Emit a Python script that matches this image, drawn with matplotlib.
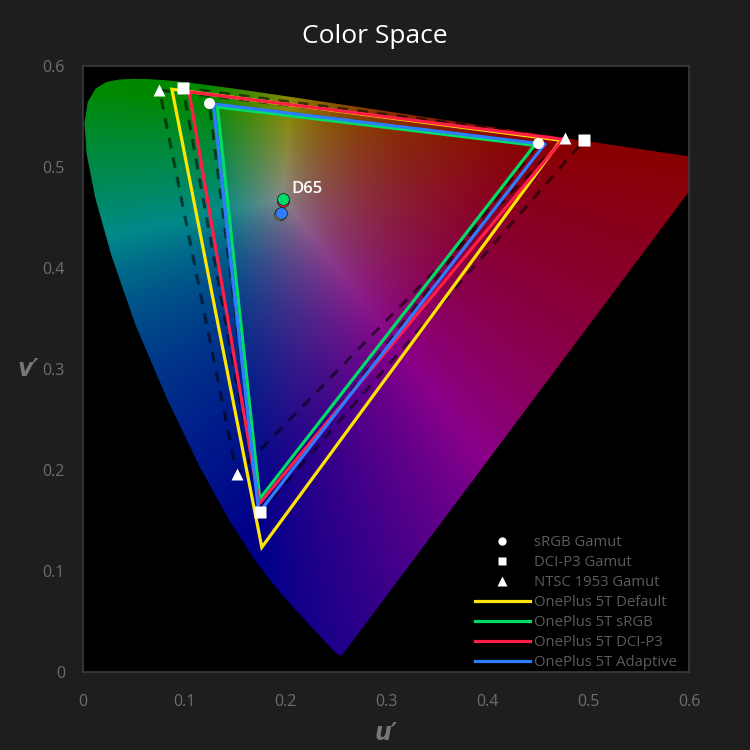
import numpy as np
import matplotlib
matplotlib.use('Agg')
import matplotlib.pyplot as plt
from matplotlib.patches import Polygon
from matplotlib.lines import Line2D

# CIE 1931 2deg spectral locus, 380-700 nm every 5 nm (x, y)
locus_x = [0.1741, 0.1740, 0.1738, 0.1736, 0.1733, 0.1730, 0.1726, 0.1721, 0.1714, 0.1703,
           0.1689, 0.1669, 0.1644, 0.1611, 0.1566, 0.1510, 0.1440, 0.1355, 0.1241, 0.1096,
           0.0913, 0.0687, 0.0454, 0.0235, 0.0082, 0.0039, 0.0139, 0.0389, 0.0743, 0.1142,
           0.1547, 0.1929, 0.2296, 0.2658, 0.3016, 0.3373, 0.3731, 0.4087, 0.4441, 0.4788,
           0.5125, 0.5448, 0.5752, 0.6029, 0.6270, 0.6482, 0.6658, 0.6801, 0.6915, 0.7006,
           0.7079, 0.7140, 0.7190, 0.7230, 0.7260, 0.7283, 0.7300, 0.7311, 0.7320, 0.7327,
           0.7334, 0.7340, 0.7344, 0.7346, 0.7347]
locus_y = [0.0050, 0.0050, 0.0049, 0.0049, 0.0048, 0.0048, 0.0048, 0.0048, 0.0051, 0.0058,
           0.0069, 0.0086, 0.0109, 0.0138, 0.0177, 0.0227, 0.0297, 0.0399, 0.0578, 0.0868,
           0.1327, 0.2007, 0.2950, 0.4127, 0.5384, 0.6548, 0.7502, 0.8120, 0.8338, 0.8262,
           0.8059, 0.7816, 0.7543, 0.7243, 0.6923, 0.6589, 0.6245, 0.5896, 0.5547, 0.5202,
           0.4866, 0.4544, 0.4242, 0.3965, 0.3725, 0.3514, 0.3340, 0.3197, 0.3083, 0.2993,
           0.2920, 0.2859, 0.2809, 0.2770, 0.2740, 0.2717, 0.2700, 0.2689, 0.2680, 0.2673,
           0.2666, 0.2660, 0.2656, 0.2654, 0.2653]

# reference gamuts in u'v' (R, G, B)
srgb_u = [0.4507, 0.1250, 0.1754]
srgb_v = [0.5229, 0.5625, 0.1579]
p3_u = [0.4964, 0.0990, 0.1754]
p3_v = [0.5262, 0.5777, 0.1579]
ntsc_u = [0.4769, 0.0757, 0.1522]
ntsc_v = [0.5285, 0.5757, 0.1957]

# measured display modes (R, G, B)
default_u = [0.473, 0.088, 0.177]
default_v = [0.526, 0.5765, 0.123]
srgb_mode_u = [0.447, 0.133, 0.175]
srgb_mode_v = [0.521, 0.559, 0.171]
p3_mode_u = [0.475, 0.105, 0.1745]
p3_mode_v = [0.527, 0.574, 0.166]
adaptive_u = [0.457, 0.129, 0.174]
adaptive_v = [0.522, 0.562, 0.157]

# measured white points: default, sRGB, DCI-P3, adaptive
white_u = [0.1950, 0.1977, 0.1975, 0.1957]
white_v = [0.4530, 0.4677, 0.4660, 0.4543]

mode_names = ['OnePlus 5T Default', 'OnePlus 5T sRGB', 'OnePlus 5T DCI-P3', 'OnePlus 5T Adaptive']
mode_colors = ['#ffe600', '#00dd66', '#ff1e46', '#2f7dff']

bg = '#1e1e1e'
tick_col = '#6e6e6e'

def xy_to_uv(x, y):
    x = np.asarray(x); y = np.asarray(y)
    d = -2 * x + 12 * y + 3
    return 4 * x / d, 9 * y / d

lu, lv = xy_to_uv(locus_x, locus_y)

fig = plt.figure(figsize=(7.5, 7.5), dpi=100, facecolor=bg)
ax = fig.add_axes([0.1107, 0.1013, 0.808, 0.8147])
ax.set_facecolor('black')

# coloured horseshoe
res = 700
uu, vv = np.meshgrid(np.linspace(0, 0.6, res), np.linspace(0, 0.6, res))
d = 6 * uu - 16 * vv + 12
x = 9 * uu / d
y = np.maximum(4 * vv / d, 1e-4)
X = x / y
Z = (1 - x - y) / y
M = np.array([[3.2406, -1.5372, -0.4986],
              [-0.9689, 1.8758, 0.0415],
              [0.0557, -0.2040, 1.0570]])
rgb = np.stack([X, np.ones_like(X), Z], -1) @ M.T
rgb = np.clip(rgb, 0, None)
rgb = rgb / (rgb.max(-1, keepdims=True) + 1e-9)
rgb = rgb ** 0.8 * 0.54
img = ax.imshow(rgb, origin='lower', extent=[0, 0.6, 0, 0.6], interpolation='bilinear', zorder=1)
shape = Polygon(np.column_stack([lu, lv]), closed=True, transform=ax.transData)
img.set_clip_path(shape)

# reference triangles, dashed
for gu, gv in [(srgb_u, srgb_v), (p3_u, p3_v), (ntsc_u, ntsc_v)]:
    ax.plot(gu + gu[:1], gv + gv[:1], color='black', alpha=0.55, lw=2.2,
            dashes=(3.5, 3), zorder=2)

# measured gamuts
for gu, gv, c, n in zip([default_u, srgb_mode_u, p3_mode_u, adaptive_u],
                        [default_v, srgb_mode_v, p3_mode_v, adaptive_v],
                        mode_colors, mode_names):
    ax.plot(gu + gu[:1], gv + gv[:1], color=c, lw=2.3, solid_joinstyle='miter', zorder=3, label=n)

# reference primaries
ax.plot(srgb_u, srgb_v, 'o', color='white', ms=8, mec='none', zorder=4)
ax.plot(p3_u, p3_v, 's', color='white', ms=8, mec='none', zorder=4)
ax.plot(ntsc_u, ntsc_v, '^', color='white', ms=9, mec='none', zorder=4)

# white points
for i in [0, 2, 1, 3]:
    ax.plot(white_u[i], white_v[i], 'o', color=mode_colors[i], ms=8.5, mec='#222222', mew=0.6, zorder=5)
ax.text(0.206, 0.478, 'D65', color='white', fontsize=12, fontweight='semibold',
        family='Open Sans', va='center', zorder=6)

ax.set_xlim(0, 0.6)
ax.set_ylim(0, 0.6)
ax.set_xticks([0, 0.1, 0.2, 0.3, 0.4, 0.5, 0.6])
ax.set_xticklabels(['0', '0.1', '0.2', '0.3', '0.4', '0.5', '0.6'])
ax.set_yticks([0, 0.1, 0.2, 0.3, 0.4, 0.5, 0.6])
ax.set_yticklabels(['0', '0.1', '0.2', '0.3', '0.4', '0.5', '0.6'])
ax.tick_params(length=0, colors=tick_col, labelsize=11.5)
ax.tick_params(axis='x', pad=16)
ax.tick_params(axis='y', pad=13)
for lab in ax.get_xticklabels() + ax.get_yticklabels():
    lab.set_family('Open Sans')
for s in ax.spines.values():
    s.set_color('#3c3c3c')
    s.set_linewidth(1.2)

ax.set_xlabel("u\u2032", color='#777777', fontsize=17, fontweight='bold', style='italic', labelpad=8)
ax.set_ylabel("v\u2032", color='#777777', fontsize=17, fontweight='bold', style='italic', labelpad=10,
              rotation=0, va='center')
fig.suptitle('Color Space', color='white', fontsize=19, family='Open Sans', y=0.968)

handles = [Line2D([], [], ls='none', marker='o', color='white', ms=6, mec='none'),
           Line2D([], [], ls='none', marker='s', color='white', ms=6, mec='none'),
           Line2D([], [], ls='none', marker='^', color='white', ms=6.5, mec='none')]
handles += [Line2D([], [], color=c, lw=2.3) for c in mode_colors]
labels = ['sRGB Gamut', 'DCI-P3 Gamut', 'NTSC 1953 Gamut'] + mode_names
leg = ax.legend(handles, labels, loc='lower right', frameon=False,
                labelspacing=0.34, handlelength=3.7, handletextpad=0.3,
                bbox_to_anchor=(0.99, -0.008),
                borderaxespad=0.0, prop={'family': 'Open Sans', 'size': 10.7})
for t in leg.get_texts():
    t.set_color('#5c5c5c')

fig.savefig('out.png', dpi=100, facecolor=bg)
